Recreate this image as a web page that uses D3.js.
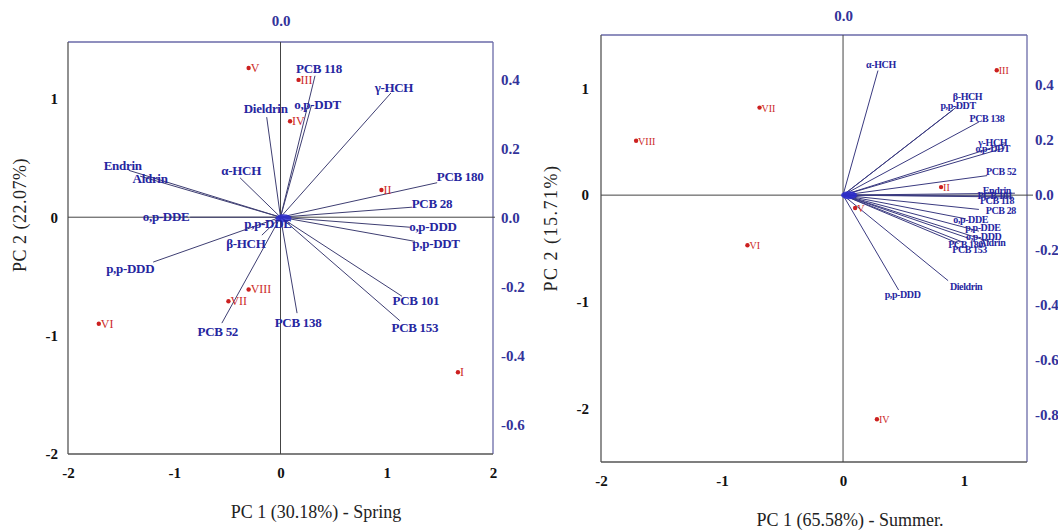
<!DOCTYPE html>
<html><head><meta charset="utf-8">
<script src="https://cdn.jsdelivr.net/npm/d3@7"></script>
<style>
body{margin:0;background:#fff;}
svg{display:block;}
text{font-family:"Liberation Serif","Times New Roman",serif;}
</style></head>
<body><svg id="c" width="1058" height="532"></svg>
<script>
// ---------- DATA ----------
const scoreTicks = [-2, -1, 0, 1, 2];
const springLoadTicksY = [0.4, 0.2, 0.0, -0.2, -0.4, -0.6];
const summerLoadTicksY = [0.4, 0.2, 0.0, -0.2, -0.4, -0.6, -0.8];
const loadTicksX = [0.0];

const springSites = ["I","II","III","IV","V","VI","VII","VIII"];
const springPC1 = [1.67, 0.95, 0.17, 0.09, -0.30, -1.71, -0.49, -0.30];
const springPC2 = [-1.31, 0.23, 1.16, 0.81, 1.26, -0.90, -0.71, -0.61];

const springVars = ["PCB 118","o,p-DDT","Dieldrin","γ-HCH","α-HCH","Endrin","Aldrin","PCB 180","PCB 28","o,p-DDD","p,p-DDT","PCB 101","PCB 153","PCB 138","PCB 52","p,p-DDD","β-HCH","o,p-DDE","p,p-DDE"];
const springL1 = [0.10, 0.09, -0.04, 0.32, -0.117, -0.44, -0.407, 0.454, 0.381, 0.375, 0.39, 0.352, 0.346, 0.048, -0.17, -0.369, -0.054, -0.262, 0.013];
const springL2 = [0.41, 0.325, 0.29, 0.36, 0.114, 0.136, 0.119, 0.10, 0.029, -0.029, -0.07, -0.229, -0.30, -0.278, -0.307, -0.13, -0.052, 0.0, -0.009];

const summerSites = ["III","VII","VIII","VI","IV","II","V"];
const summerPC1 = [1.27, -0.69, -1.71, -0.79, 0.28, 0.81, 0.10];
const summerPC2 = [1.17, 0.82, 0.51, -0.47, -2.10, 0.075, -0.12];

const summerVars = ["α-HCH","β-HCH","p,p-DDT","PCB 138","γ-HCH","o,p-DDT","PCB 52","Endrin","PCB 101","PCB 118","PCB 28","o,p-DDE","p,p-DDE","o,p-DDD","Aldrin","PCB 180","PCB 153","Dieldrin","p,p-DDD"];
const summerL1 = [0.127, 0.42, 0.40, 0.494, 0.588, 0.588, 0.524, 0.625, 0.607, 0.618, 0.494, 0.446, 0.494, 0.457, 0.532, 0.438, 0.42, 0.382, 0.202];
const summerL2 = [0.453, 0.326, 0.31, 0.266, 0.187, 0.172, 0.071, 0.007, -0.004, -0.007, -0.052, -0.086, -0.131, -0.157, -0.169, -0.172, -0.176, -0.311, -0.345];

// ---------- LAYOUT (label nudges in px, box geometry) ----------
const springNudge = [[4,-3],[6,4],[-1,-4],[3,-1],[1,-3],[-6,0],[10,7],[23,-2],[20,1],[23,4],[21,7],[14,9],[15,11],[1,14],[-4,13],[-23,11],[-16,13],[-24,4],[-17,8]];
const summerNudge = [[3,-3],[9,-5],[5,-1],[8,0],[-12,2],[-12,4],[14,-1],[-18,1],[-15,3],[-16,7],[22,5],[5,4],[4,0],[15,2],[3,4],[2,6],[11,9],[18,9],[4,8]];

const svg = d3.select("#c");
const BLUE = "#33339a";
const LBL = "#2626a0";
const hy = f => d => f(d).replace("\u2212", "-");

function panel(o){
  const g = svg.append("g");
  const x = d3.scaleLinear().domain(o.xDom).range([o.left, o.right]);
  const y = d3.scaleLinear().domain(o.yDom).range([o.bottom, o.top]);
  const lx = d3.scaleLinear().domain([0, 1]).range([x(0), x(0) + o.lUnit]);
  const ly = d3.scaleLinear().domain([0, 1]).range([y(0), y(0) - o.lUnit]);

  // box
  g.append("line").attr("x1",o.left).attr("x2",o.right).attr("y1",o.top).attr("y2",o.top).attr("stroke","#6a6aa8").attr("stroke-width",1.3);
  g.append("line").attr("x1",o.right).attr("x2",o.right).attr("y1",o.top).attr("y2",o.bottom).attr("stroke","#6a6aa8").attr("stroke-width",1.3);
  g.append("line").attr("x1",o.left).attr("x2",o.left).attr("y1",o.top).attr("y2",o.bottom).attr("stroke","#555").attr("stroke-width",1.3);
  g.append("line").attr("x1",o.left).attr("x2",o.right).attr("y1",o.bottom).attr("y2",o.bottom).attr("stroke","#555").attr("stroke-width",1.3);
  // zero lines
  g.append("line").attr("x1",x(0)).attr("x2",x(0)).attr("y1",o.top).attr("y2",o.bottom).attr("stroke","#444").attr("stroke-width",1);
  g.append("line").attr("x1",o.left).attr("x2",o.right + o.zeroExt).attr("y1",y(0)).attr("y2",y(0)).attr("stroke","#444").attr("stroke-width",1);

  // axes
  const styleAx = (sel, col) => {
    sel.select(".domain").remove();
    sel.selectAll("line").remove();
    sel.selectAll("text").attr("font-family","Liberation Serif").attr("font-weight","bold").attr("font-size",15).attr("fill",col);
  };
  g.append("g").attr("transform",`translate(${o.left},0)`)
    .call(d3.axisLeft(y).tickValues(o.yTicks).tickFormat(hy(d3.format("d"))).tickSize(0).tickPadding(o.yPad))
    .call(s=>styleAx(s,"#111"));
  g.append("g").attr("transform",`translate(0,${o.bottom})`)
    .call(d3.axisBottom(x).tickValues(o.xTicks).tickFormat(hy(d3.format("d"))).tickSize(0).tickPadding(13))
    .call(s=>styleAx(s,"#111"));
  g.append("g").attr("transform",`translate(${o.right},0)`)
    .call(d3.axisRight(ly).tickValues(o.lyTicks).tickFormat(hy(d3.format(".1f"))).tickSize(0).tickPadding(8))
    .call(s=>styleAx(s,BLUE));
  g.append("g").attr("transform",`translate(0,${o.top})`)
    .call(d3.axisTop(lx).tickValues(loadTicksX).tickFormat(hy(d3.format(".1f"))).tickSize(0).tickPadding(o.topPad))
    .call(s=>styleAx(s,BLUE));

  // titles
  g.append("text").attr("x",o.xTitleX).attr("y",o.xTitleY).attr("text-anchor","middle")
    .attr("font-size",18).attr("fill","#222").text(o.xTitle);
  g.append("text").attr("transform",`translate(${o.yTitleX},${o.yTitleY}) rotate(-90)`).attr("text-anchor","middle")
    .attr("font-size",18).attr("fill","#222").attr("letter-spacing",o.yTitleLS).text(o.yTitle);

  // loadings
  const L = o.vars.map((n,i)=>({n, a:o.l1[i], b:o.l2[i], nd:o.nudge[i]}));
  g.append("g").selectAll("line").data(L).join("line")
    .attr("x1",lx(0)).attr("y1",ly(0))
    .attr("x2",d=>lx(d.a)).attr("y2",d=>ly(d.b))
    .attr("stroke",o.lineCol).attr("stroke-width",o.lineW);
  g.append("ellipse").attr("cx",lx(0)+o.blobDx).attr("cy",ly(0)+o.blobDy).attr("rx",o.blobRx).attr("ry",o.blobRy).attr("fill","#2a2ad0").attr("opacity",0.85);
  g.append("g").selectAll("text").data(L).join("text")
    .attr("x",d=>lx(d.a)+d.nd[0]).attr("y",d=>ly(d.b)+d.nd[1])
    .attr("text-anchor","middle").attr("font-weight","bold").attr("font-size",o.lblSize)
    .attr("letter-spacing",o.lblLS)
    .attr("fill",LBL).text(d=>d.n);

  // scores
  const S = o.sites.map((n,i)=>({n, a:o.pc1[i], b:o.pc2[i]}));
  const sg = g.append("g").selectAll("g").data(S).join("g")
    .attr("transform",d=>`translate(${x(d.a)},${y(d.b)})`);
  sg.append("circle").attr("r",2.2).attr("fill","#cc2020");
  sg.append("text").attr("x",2).attr("y",4).attr("font-size",o.siteSize).attr("fill","#cc2a2a").text(d=>d.n);
}

panel({
  left:68, right:493, top:42, bottom:454,
  xDom:[-2,2], yDom:[-2,1.48], lUnit:345, zeroExt:2,
  xTicks:scoreTicks, yTicks:[1,0,-1,-2], lyTicks:springLoadTicksY, yPad:10, topPad:16,
  xTitle:"PC 1 (30.18%) - Spring", xTitleX:316, xTitleY:518,
  yTitle:"PC 2 (22.07%)", yTitleX:26, yTitleY:215, yTitleLS:0.5,
  vars:springVars, l1:springL1, l2:springL2, nudge:springNudge,
  lineCol:"#3e3e72", lineW:1, lblSize:13, lblLS:-0.3,
  blobDx:3, blobDy:1, blobRx:8, blobRy:4,
  sites:springSites, pc1:springPC1, pc2:springPC2, siteSize:12
});

panel({
  left:601, right:1027, top:35, bottom:462,
  xDom:[-2,1.52], yDom:[-2.5,1.5], lUnit:275, zeroExt:6,
  xTicks:[-2,-1,0,1], yTicks:[1,0,-1,-2], lyTicks:summerLoadTicksY, yPad:12, topPad:14,
  xTitle:"PC 1 (65.58%) - Summer.", xTitleX:850, xTitleY:526,
  yTitle:"PC 2 (15.71%)", yTitleX:557, yTitleY:228, yTitleLS:1.5,
  vars:summerVars, l1:summerL1, l2:summerL2, nudge:summerNudge,
  lineCol:"#3a3a80", lineW:1, lblSize:10, lblLS:-0.4,
  blobDx:6, blobDy:0, blobRx:8, blobRy:4,
  sites:summerSites, pc1:summerPC1, pc2:summerPC2, siteSize:10
});
</script></body></html>
